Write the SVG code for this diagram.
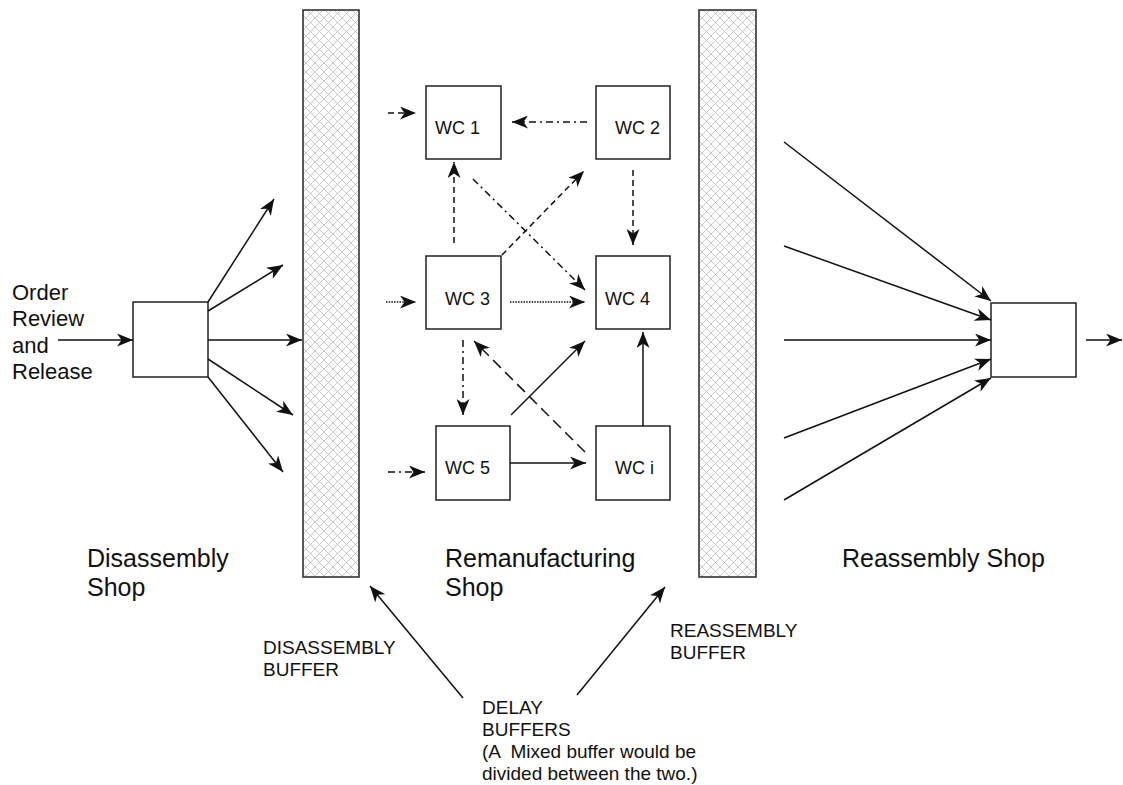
<svg xmlns="http://www.w3.org/2000/svg" width="1123" height="785" viewBox="0 0 1123 785">
  <style>
    .box { fill: #fff; stroke: #222; stroke-width: 1.5; }
    .buf { fill: url(#hatch); stroke: #333; stroke-width: 1.6; }
    .lbl { font-family: "Liberation Sans", Arial, sans-serif; fill: #111; }
    .big { font-size: 25px; }
    .mid { font-size: 22px; }
    .wc { font-size: 18px; }
    .cap { font-size: 19px; }
    .arr { fill: none; stroke: #111; stroke-width: 1.5; marker-end: url(#head); }
    .dash { stroke-dasharray: 6 4; }
    .ldash { stroke-dasharray: 11 6; }
    .dashdot { stroke-dasharray: 7 4 2 4; }
    .dot { stroke-dasharray: 1.5 1.2; stroke-width: 1.3; }
  </style>
  <defs>
    <pattern id="hatch" patternUnits="userSpaceOnUse" width="9" height="9">
      <rect width="9" height="9" fill="#fff"/>
      <path d="M0,0 L9,9 M9,0 L0,9" stroke="#b0b0b0" stroke-width="0.7"/>
    </pattern>
    <marker id="head" markerUnits="userSpaceOnUse" markerWidth="17" markerHeight="13" refX="16" refY="6.5" orient="auto">
      <path d="M0,0 L16,6.5 L0,13 L4.5,6.5 Z" fill="#111"/>
    </marker>
  </defs>

  <!-- buffers -->
  <g id="disassembly-buffer"><rect class="buf" x="303" y="10" width="56" height="567"/></g>
  <g id="reassembly-buffer"><rect class="buf" x="699" y="10" width="57" height="567"/></g>

  <!-- shop boxes -->
  <g id="disassembly"><rect class="box" x="133" y="302" width="75" height="75"/></g>
  <g id="reassembly"><rect class="box" x="991" y="303" width="85" height="74"/></g>

  <!-- work centres -->
  <g id="wc1"><rect class="box" x="426" y="86" width="75" height="73"/><text class="lbl wc" x="435" y="134">WC 1</text></g>
  <g id="wc2"><rect class="box" x="596" y="86" width="74" height="73"/><text class="lbl wc" x="615" y="134">WC 2</text></g>
  <g id="wc3"><rect class="box" x="426" y="256" width="75" height="73"/><text class="lbl wc" x="445" y="305">WC 3</text></g>
  <g id="wc4"><rect class="box" x="596" y="256" width="74" height="73"/><text class="lbl wc" x="605" y="305">WC 4</text></g>
  <g id="wc5"><rect class="box" x="436" y="426" width="74" height="74"/><text class="lbl wc" x="445" y="474">WC 5</text></g>
  <g id="wci"><rect class="box" x="596" y="426" width="74" height="74"/><text class="lbl wc" x="615" y="474">WC i</text></g>

  <!-- connectors -->
  <g id="connectors">
    <!-- release into disassembly -->
    <line class="arr" x1="58" y1="340" x2="133" y2="340"/>
    <!-- disassembly fan-out -->
    <line class="arr" x1="208" y1="302" x2="274" y2="199"/>
    <line class="arr" x1="208" y1="311" x2="283" y2="265"/>
    <line class="arr" x1="208" y1="340" x2="302" y2="340"/>
    <line class="arr" x1="208" y1="359" x2="293" y2="415"/>
    <line class="arr" x1="208" y1="377" x2="283" y2="472"/>
    <!-- entries into remanufacturing shop -->
    <line class="arr dash" x1="388" y1="113" x2="416" y2="113"/>
    <line class="arr dot" x1="386" y1="302" x2="416" y2="302"/>
    <line class="arr dashdot" x1="388" y1="472" x2="425" y2="472"/>
    <!-- routes between work centres -->
    <line class="arr dashdot" x1="587" y1="122" x2="512" y2="122"/>
    <line class="arr dash" x1="454" y1="243" x2="454" y2="162"/>
    <line class="arr dashdot" x1="473" y1="179" x2="585" y2="290"/>
    <line class="arr dash" x1="502" y1="255" x2="584" y2="171"/>
    <line class="arr dash" x1="633" y1="170" x2="633" y2="245"/>
    <line class="arr dot" x1="510" y1="302" x2="585" y2="302"/>
    <line class="arr dashdot" x1="463" y1="340" x2="463" y2="415"/>
    <line class="arr ldash" x1="585" y1="452" x2="474" y2="341"/>
    <line class="arr" x1="511" y1="415" x2="585" y2="341"/>
    <line class="arr" x1="643" y1="426" x2="643" y2="332"/>
    <line class="arr" x1="510" y1="463" x2="586" y2="463"/>
    <!-- reassembly fan-in -->
    <line class="arr" x1="784" y1="142" x2="991" y2="301"/>
    <line class="arr" x1="784" y1="246" x2="991" y2="320"/>
    <line class="arr" x1="784" y1="340" x2="991" y2="340"/>
    <line class="arr" x1="784" y1="438" x2="991" y2="359"/>
    <line class="arr" x1="784" y1="500" x2="991" y2="378"/>
    <line class="arr" x1="1086" y1="340" x2="1122" y2="340"/>
    <!-- delay buffer pointers -->
    <line class="arr" x1="463" y1="698" x2="370" y2="586"/>
    <line class="arr" x1="577" y1="695" x2="665" y2="587"/>
  </g>

  <!-- labels -->
  <g id="labels">
    <text class="lbl mid" x="12" y="300">Order</text>
    <text class="lbl mid" x="12" y="326">Review</text>
    <text class="lbl mid" x="12" y="353">and</text>
    <text class="lbl mid" x="12" y="379">Release</text>

    <text class="lbl big" x="87" y="567">Disassembly</text>
    <text class="lbl big" x="87" y="596">Shop</text>
    <text class="lbl big" x="445" y="567">Remanufacturing</text>
    <text class="lbl big" x="445" y="596">Shop</text>
    <text class="lbl big" x="842" y="567">Reassembly Shop</text>

    <text class="lbl cap" x="263" y="654">DISASSEMBLY</text>
    <text class="lbl cap" x="263" y="676">BUFFER</text>
    <text class="lbl cap" x="670" y="637">REASSEMBLY</text>
    <text class="lbl cap" x="670" y="659">BUFFER</text>

    <text class="lbl cap" x="482" y="714">DELAY</text>
    <text class="lbl cap" x="482" y="736">BUFFERS</text>
    <text class="lbl cap" x="482" y="758" xml:space="preserve">(A  Mixed buffer would be</text>
    <text class="lbl cap" x="482" y="780">divided between the two.)</text>
  </g>
</svg>
